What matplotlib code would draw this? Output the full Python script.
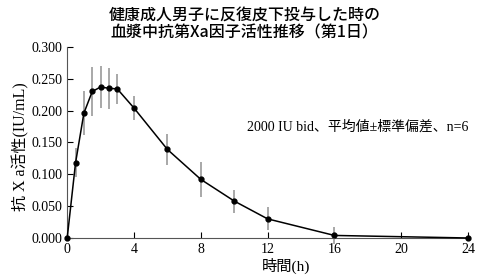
import numpy as np
import matplotlib
matplotlib.use('Agg')
import matplotlib.pyplot as plt

# 時間(h) と 抗Xa活性 (平均値, 標準偏差)
hours = [0, 0.5, 1, 1.5, 2, 2.5, 3, 4, 6, 8, 10, 12, 16, 24]
mean_activity = [0.000, 0.118, 0.196, 0.230, 0.237, 0.235, 0.234, 0.204,
                 0.139, 0.092, 0.058, 0.030, 0.004, 0.000]
sd_activity = [0.000, 0.023, 0.034, 0.038, 0.033, 0.032, 0.024, 0.019,
               0.024, 0.027, 0.018, 0.018, 0.013, 0.000]

x_ticks = [0, 4, 8, 12, 16, 20, 24]
y_ticks = [0.0, 0.05, 0.10, 0.15, 0.20, 0.25, 0.30]

title_text = '健康成人男子に反復皮下投与した時の\n血漿中抗第Xa因子活性推移（第1日）'
note_text = '2000 IU bid、平均値±標準偏差、n=6'

serif_fonts = ['Liberation Serif', 'Noto Sans CJK JP']
sans_fonts = ['Noto Sans CJK JP', 'DejaVu Sans']

fig = plt.figure(figsize=(4.8, 2.79), dpi=100)
ax = fig.add_axes([0.14, 0.147, 0.835, 0.685])

ax.errorbar(hours, mean_activity, yerr=sd_activity, color='black',
            ecolor='#999999', elinewidth=1.2, linewidth=1.1,
            marker='o', markersize=3.5, capsize=0, zorder=3)

ax.set_xlim(0, 24)
ax.set_ylim(0, 0.3)
ax.set_xticks(x_ticks)
ax.set_yticks(y_ticks)
ax.set_yticklabels(['%.3f' % v for v in y_ticks])
ax.tick_params(direction='in', length=4, width=0.8, labelsize=10)
for lbl in ax.get_xticklabels() + ax.get_yticklabels():
    lbl.set_family(serif_fonts)

ax.spines['top'].set_visible(False)
ax.spines['right'].set_visible(False)
ax.spines['left'].set_color('#555555')
ax.spines['bottom'].set_color('#555555')
for art in ax.get_children():
    art.set_clip_on(False)

ax.set_xlabel('時間(h)', family=serif_fonts, fontsize=11)
ax.xaxis.set_label_coords(0.545, -0.105)
ax.set_ylabel('抗 X a活性(IU/mL)', family=serif_fonts, fontsize=11.5)
ax.yaxis.set_label_coords(-0.095, 0.48)

ax.text(1.0, 0.58, note_text, transform=ax.transAxes, ha='right', va='center',
        family=serif_fonts, fontsize=10)

fig.text(0.51, 0.975, title_text, ha='center', va='top', family=sans_fonts,
         fontsize=11.5, weight='medium', linespacing=1.0)

fig.savefig('out.png', dpi=100)
